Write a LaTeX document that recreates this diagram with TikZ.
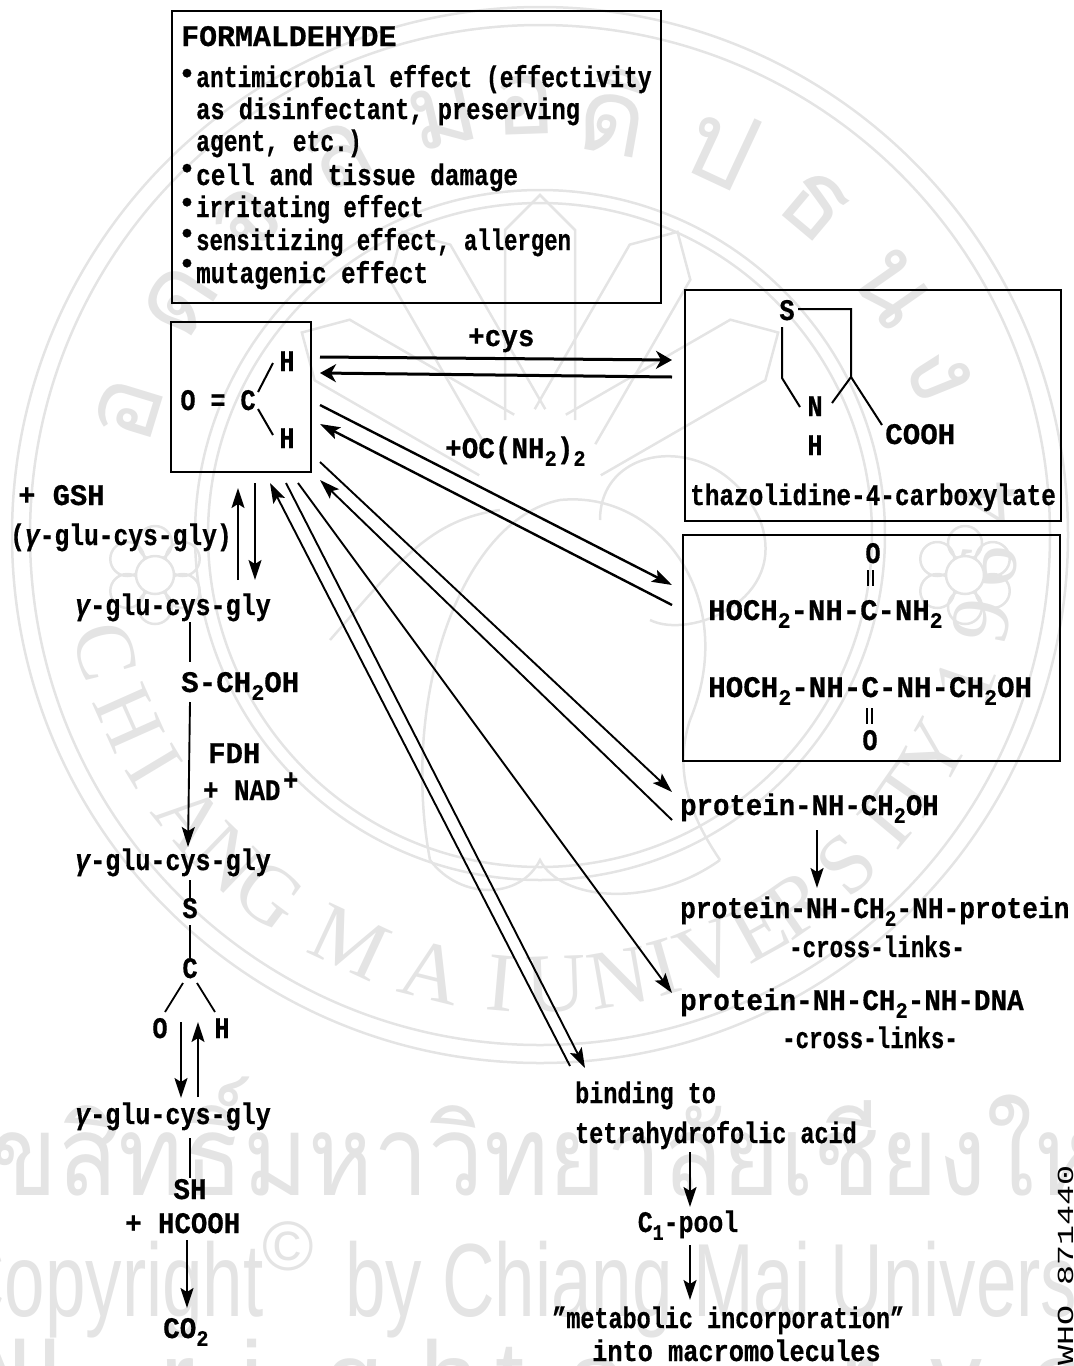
\documentclass[tikz,border=0pt]{standalone}
\usepackage{fontspec}
\setmainfont{Liberation Mono}[BoldFeatures={FakeBold=0.6},BoldItalicFeatures={FakeBold=0.6}]
\newfontfamily\thaiwm[Script=Thai]{Loma}
\newfontfamily\sanswm{Liberation Sans}
\newfontfamily\serifwm{Liberation Serif}
\usetikzlibrary{arrows.meta}
\definecolor{wm}{gray}{0.895}
\newcommand\tl[2][1]{\scalebox{#1}[1.3]{#2}}
\newcommand\lw[1]{\raisebox{-6pt}{\fontsize{17}{17}\selectfont #1}}
\newcommand\gam{{\itshape γ}}
\tikzset{
  txt/.style={inner sep=0pt,anchor=base west,font=\fontsize{23}{23}\selectfont\bfseries},
  ctr/.style={inner sep=0pt,anchor=base,font=\fontsize{23}{23}\selectfont\bfseries},
  bul/.style={inner sep=0pt,anchor=center,font=\fontsize{30}{30}\selectfont\bfseries},
  box/.style={draw,line width=2.4pt},
  bond/.style={line width=2pt},
  thin line/.style={line width=1.8pt},
  arr/.style={line width=1.9pt,-{Stealth[length=20pt,width=13pt,inset=4pt]}},
  barr/.style={line width=3pt,-{Stealth[length=16pt,width=18pt,inset=5pt]}},
  wmline/.style={draw=wm,line width=2.5pt},
  wmtext/.style={inner sep=0pt,anchor=base,text=wm},
}
\begin{document}
\begin{tikzpicture}[x=1pt,y=-1pt]
\useasboundingbox (0,0) rectangle (1074,1366);
\begin{scope}
\clip (0,0) rectangle (1074,1366);
% watermark seal
\draw[wmline] (540,535) circle (528);
\draw[wmline] (540,535) circle (510);
\draw[wmline] (540,535) circle (345);
\draw[wmline] (540,535) circle (332);
\foreach \ch/\a [count=\i] in {C/195,H/204,I/211,A/219,N/226,G/233,M/245,A/256,I/265,U/272,N/280,I/286,V/292,E/299,R/305,S/313,I/320,T/325,Y/331,1/341,9/349,6/356,4/4}{
  \node[wmtext,anchor=center,rotate=\a+90,font=\serifwm\fontsize{84}{84}\selectfont,name=wmb\i] at ({540+450*cos(\a)},{535-450*sin(\a)}) {\ch};
}
\foreach \ch/\a [count=\i] in {อ/163,ด/147,จ/133,ล/118,ม/103,อ/92,ดิ/80,ป/65,ธ/50,น/35,ง/22}{
  \node[wmtext,anchor=center,rotate=\a-90,font=\thaiwm\fontsize{105}{105}\selectfont,name=wmt\i] at ({540+430*cos(\a)},{535-430*sin(\a)}) {\ch};
}
% ornaments
\foreach \cx in {155,965}{
  \foreach \r in {0,60,...,300}{
    \draw[wmline] ({\cx+32*cos(\r+30)},{575+32*sin(\r+30)}) circle (17);
  }
  \draw[wmline,fill=white] (\cx,575) circle (19);
}
% fan of rays round the torch
\foreach \r in {-60,-30,0,30,60}{
  \begin{scope}[shift={(540,470)},rotate=\r]
    \draw[wmline] (-35,-50) -- (-35,-240) -- (0,-275) -- (35,-240) -- (35,-50);
  \end{scope}
}
% elephant
\draw[wmline] (430,860) .. controls (400,700) and (460,520) .. (560,500) .. controls (660,490) and (740,600) .. (690,720) .. controls (670,780) and (700,830) .. (720,860);
\draw[wmline] (430,860) .. controls (460,900) and (520,900) .. (540,860) .. controls (560,900) and (650,910) .. (720,860);
\draw[wmline] (600,520) .. controls (600,440) and (720,430) .. (760,520) .. controls (790,600) and (690,640) .. (650,620);
\draw[wmline] (330,640) .. controls (400,560) and (430,520) .. (500,510);
% bottom legends
\node[wmtext,anchor=base west,font=\thaiwm\fontsize{112}{112}\selectfont,name=wmthai] at (-70,1195) {\scalebox{0.88}[1]{ลิขสิทธิ์มหาวิทยาลัยเชียงใหม่}};
\node[wmtext,anchor=base west,font=\sanswm\fontsize{104}{104}\selectfont,name=wmcopy] at (-48,1316) {\scalebox{0.7}[1]{Copyright}};
\node[wmtext,anchor=base west,font=\sanswm\fontsize{70}{70}\selectfont,name=wmcopysym] at (262,1270) {©};
\node[wmtext,anchor=base west,font=\sanswm\fontsize{104}{104}\selectfont,name=wmby] at (345,1316) {\scalebox{0.7}[1]{by Chiang Mai University}};
\foreach \ch/\x [count=\i] in {A/-45,l/8,l/38,r/160,i/240,g/325,h/420,t/495,s/570,r/840,v/930,e/1030}{
  \node[wmtext,anchor=base west,font=\sanswm\fontsize{104}{104}\selectfont,name=wma\i] at (\x,1414) {\ch};
}
\end{scope}

% boxes
\node[box,minimum width=489pt,minimum height=292pt,inner sep=0pt,anchor=north west,name=fbox] at (171,10) {};
\node[box,minimum width=140pt,minimum height=150pt,inner sep=0pt,anchor=north west,name=hcho] at (170,321) {};
\node[box,minimum width=376pt,minimum height=231pt,inner sep=0pt,anchor=north west,name=thbox] at (684,289) {};
\node[box,minimum width=377pt,minimum height=226pt,inner sep=0pt,anchor=north west,name=urbox] at (682,534) {};

% formaldehyde box
\node[txt,name=ttl] at (181,46) {\tl[1.3]{FORMALDEHYDE}};
\node[bul,name=b1] at (187,76) {•};
\node[txt,name=e1] at (196,87) {\tl[1.0]{antimicrobial effect (effectivity}};
\node[txt,name=e2] at (196,119) {\tl[1.03]{as disinfectant, preserving}};
\node[txt,name=e3] at (196,151) {\tl[1.0]{agent, etc.)}};
\node[bul,name=b2] at (187,171) {•};
\node[txt,name=e4] at (196,185) {\tl[1.06]{cell and tissue damage}};
\node[bul,name=b3] at (187,205) {•};
\node[txt,name=e5] at (196,217) {\tl[0.97]{irritating effect}};
\node[bul,name=b4] at (187,236) {•};
\node[txt,name=e6] at (196,250) {\tl[0.97]{sensitizing effect, allergen}};
\node[bul,name=b5] at (187,266) {•};
\node[txt,name=e7] at (196,283) {\tl[1.05]{mutagenic effect}};

% formaldehyde formula
\node[ctr,name=fo] at (188,410) {\tl[1.1]{O}};
\node[ctr,name=feq] at (218,410) {\tl[1.1]{=}};
\node[ctr,name=fc] at (248,410) {\tl[1.1]{C}};
\node[ctr,name=fh1] at (287,371) {\tl[1.1]{H}};
\node[ctr,name=fh2] at (287,448) {\tl[1.1]{H}};
\coordinate (fb1a) at (258,392); \coordinate (fb1b) at (273,363);
\coordinate (fb2a) at (258,409); \coordinate (fb2b) at (273,435);
\draw[bond] (fb1a) -- (fb1b);
\draw[bond] (fb2a) -- (fb2b);

% thiazolidine
\node[ctr,name=ts] at (787,320) {\tl[1.1]{S}};
\node[ctr,name=tn] at (815,416) {\tl[1.1]{N}};
\node[ctr,name=th] at (815,455) {\tl[1.1]{H}};
\node[txt,name=tc] at (885,444) {\tl[1.27]{COOH}};
\node[txt,name=tlabel] at (690,505) {\tl[1.06]{thazolidine-4-carboxylate}};
\coordinate (r1) at (798,309); \coordinate (r2) at (851,309); \coordinate (r3) at (851,377);
\coordinate (r4) at (832,403); \coordinate (r5) at (882,425);
\coordinate (r6) at (782,327); \coordinate (r7) at (782,378); \coordinate (r8) at (800,407);
\draw[bond] (r1) -- (r2) -- (r3) -- (r4);
\draw[bond] (r3) -- (r5);
\draw[bond] (r6) -- (r7) -- (r8);

% urea box
\node[ctr,name=uo1] at (873,563) {\tl[1.1]{O}};
\node[txt,name=u1] at (708,620) {\tl[1.26]{HOCH\lw{2}-NH-C-NH\lw{2}}};
\node[txt,name=u2] at (708,697) {\tl[1.27]{HOCH\lw{2}-NH-C-NH-CH\lw{2}OH}};
\node[ctr,name=uo2] at (870,750) {\tl[1.1]{O}};
\coordinate (d1a) at (868,570); \coordinate (d1b) at (868,586);
\coordinate (d2a) at (873,570); \coordinate (d2b) at (873,586);
\coordinate (d3a) at (867,708); \coordinate (d3b) at (867,724);
\coordinate (d4a) at (872,708); \coordinate (d4b) at (872,724);
\draw[bond,line width=1.5pt] (d1a) -- (d1b);
\draw[bond,line width=1.5pt] (d2a) -- (d2b);
\draw[bond,line width=1.5pt] (d3a) -- (d3b);
\draw[bond,line width=1.5pt] (d4a) -- (d4b);

% reagent labels
\node[txt,name=lcys] at (468,346) {\tl[1.2]{+cys}};
\node[txt,name=lurea] at (445,458) {\tl[1.2]{+OC(NH\lw{2})\lw{2}}};
\node[txt,name=lgsh] at (18,505) {\tl[1.25]{+ GSH}};
\node[txt,name=lgsh2] at (10,545) {\tl[1.07]{(\gam-glu-cys-gly)}};

% left chain
\node[txt,name=g1] at (75,615) {\tl[1.09]{\gam-glu-cys-gly}};
\node[txt,name=sch] at (181,692) {\tl[1.27]{S-CH\lw{2}OH}};
\node[txt,name=fdh] at (208,763) {\tl[1.26]{FDH}};
\node[txt,name=nad] at (203,800) {\tl[1.12]{+ NAD}};
\node[txt,name=nadp] at (283,790) {\tl[1.1]{+}};
\node[txt,name=g2] at (75,870) {\tl[1.09]{\gam-glu-cys-gly}};
\node[ctr,name=cs] at (190,918) {\tl[1.1]{S}};
\node[ctr,name=cc] at (190,978) {\tl[1.1]{C}};
\node[ctr,name=co] at (160,1038) {\tl[1.1]{O}};
\node[ctr,name=ch] at (222,1038) {\tl[1.1]{H}};
\node[txt,name=g3] at (75,1124) {\tl[1.09]{\gam-glu-cys-gly}};
\node[ctr,name=sh] at (190,1199) {\tl[1.2]{SH}};
\node[txt,name=hcooh] at (125,1233) {\tl[1.19]{+ HCOOH}};
\node[txt,name=co2] at (163,1338) {\tl[1.2]{CO\lw{2}}};

% right labels
\node[txt,name=p1] at (680,815) {\tl[1.19]{protein-NH-CH\lw{2}OH}};
\node[txt,name=p2] at (680,918) {\tl[1.14]{protein-NH-CH\lw{2}-NH-protein}};
\node[ctr,name=p2b] at (877,957) {\tl[0.98]{-cross-links-}};
\node[txt,name=p3] at (680,1010) {\tl[1.2]{protein-NH-CH\lw{2}-NH-DNA}};
\node[ctr,name=p3b] at (870,1048) {\tl[0.98]{-cross-links-}};
\node[txt,name=q1] at (575,1103) {\tl[1.02]{binding to}};
\node[txt,name=q2] at (575,1143) {\tl[1.02]{tetrahydrofolic acid}};
\node[ctr,name=q3] at (688,1232) {\tl[1.08]{C\lw{1}-pool}};
\node[txt,name=q4] at (552,1328) {\tl[1.02]{"metabolic incorporation"}};
\node[txt,name=q5] at (592,1361) {\tl[1.1]{into macromolecules}};

\node[inner sep=0pt,anchor=base west,rotate=90,font=\fontsize{23}{23}\selectfont,name=who] at (1073,1366) {\scalebox{1.45}[1]{WHO 871440}};

% connector end points
\coordinate (a1s) at (320,357); \coordinate (a1e) at (672,360);
\coordinate (a2s) at (672,377); \coordinate (a2e) at (320,373);
\coordinate (a3s) at (320,405); \coordinate (a3e) at (672,585);
\coordinate (a4s) at (672,605); \coordinate (a4e) at (320,424);
\coordinate (a5s) at (320,462); \coordinate (a5e) at (672,792);
\coordinate (a6s) at (672,820); \coordinate (a6e) at (320,480);
\coordinate (a7s) at (298,483); \coordinate (a7e) at (672,993);
\coordinate (a8s) at (286,483); \coordinate (a8e) at (585,1068);
\coordinate (a9s) at (570,1066); \coordinate (a9e) at (270,483);
\coordinate (l1s) at (238,580); \coordinate (l1e) at (238,488);
\coordinate (l2s) at (255,483); \coordinate (l2e) at (255,580);
\coordinate (l3s) at (190,622); \coordinate (l3e) at (190,662);
\coordinate (l4s) at (190,702); \coordinate (l4e) at (188,847);
\coordinate (l5s) at (190,880); \coordinate (l5e) at (190,900);
\coordinate (l6s) at (190,925); \coordinate (l6e) at (190,958);
\coordinate (l7s) at (183,983); \coordinate (l7e) at (165,1012);
\coordinate (l8s) at (197,983); \coordinate (l8e) at (215,1012);
\coordinate (l9s) at (181,1022); \coordinate (l9e) at (181,1098);
\coordinate (l10s) at (198,1097); \coordinate (l10e) at (198,1022);
\coordinate (l11s) at (190,1138); \coordinate (l11e) at (190,1178);
\coordinate (l12s) at (187,1240); \coordinate (l12e) at (187,1308);
\coordinate (r1s) at (817,830); \coordinate (r1e) at (817,888);
\coordinate (r2s) at (690,1152); \coordinate (r2e) at (690,1207);
\coordinate (r3s) at (690,1245); \coordinate (r3e) at (690,1300);

% connectors
\draw[barr] (a1s) -- (a1e);
\draw[barr] (a2s) -- (a2e);
\draw[arr,line width=2.4pt] (a3s) -- (a3e);
\draw[arr,line width=2.4pt] (a4s) -- (a4e);
\draw[arr] (a5s) -- (a5e);
\draw[arr] (a6s) -- (a6e);
\draw[arr] (a7s) -- (a7e);
\draw[arr] (a8s) -- (a8e);
\draw[arr] (a9s) -- (a9e);
\draw[arr] (l1s) -- (l1e);
\draw[arr] (l2s) -- (l2e);
\draw[thin line] (l3s) -- (l3e);
\draw[arr] (l4s) -- (l4e);
\draw[thin line] (l5s) -- (l5e);
\draw[thin line] (l6s) -- (l6e);
\draw[thin line] (l7s) -- (l7e);
\draw[thin line] (l8s) -- (l8e);
\draw[arr] (l9s) -- (l9e);
\draw[arr] (l10s) -- (l10e);
\draw[thin line] (l11s) -- (l11e);
\draw[arr] (l12s) -- (l12e);
\draw[arr] (r1s) -- (r1e);
\draw[arr] (r2s) -- (r2e);
\draw[arr] (r3s) -- (r3e);
\end{tikzpicture}
\end{document}
